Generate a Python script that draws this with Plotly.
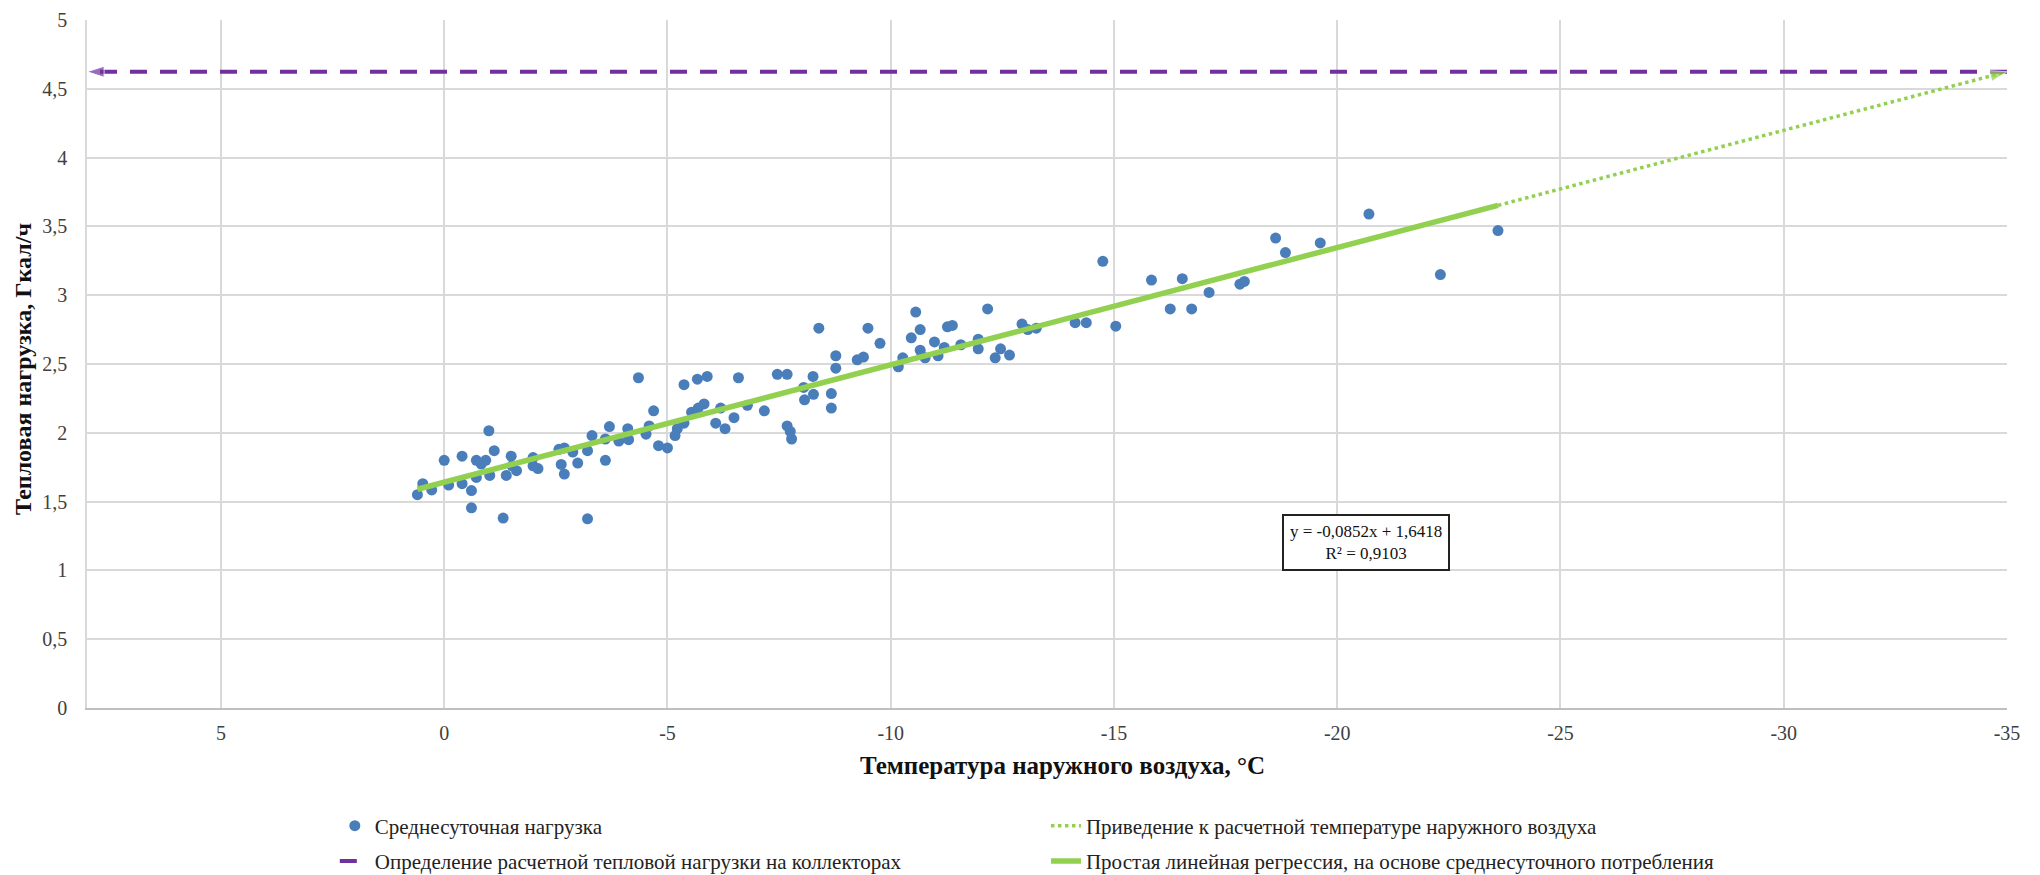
import plotly.graph_objects as go

# ---- data ----
temperature = [0.60, 0.48, 0.28, 0.00, -0.10, -0.40, -0.40, -0.61, -0.61, -0.72,
               -0.72, -0.83, -0.93, -1.00, -1.12, -1.02, -1.32, -1.39, -1.50, -1.62,
               -1.52, -1.99, -2.10, -1.99, -2.57, -2.69, -2.62, -2.69, -2.88, -2.99,
               -3.21, -3.21, -3.31, -3.61, -3.61, -3.70, -3.91, -4.11, -4.13, -4.35,
               -4.52, -4.59, -4.69, -4.80, -5.00, -5.17, -5.22, -5.37, -5.37, -5.54,
               -5.67, -5.69, -5.82, -5.89, -6.08, -6.19, -6.29, -6.49, -6.59, -6.79,
               -7.17, -7.46, -7.68, -7.68, -7.75, -7.78, -8.05, -8.07, -8.26, -8.27,
               -8.39, -8.67, -8.67, -8.77, -8.77, -9.25, -9.39, -9.49, -9.76, -10.17,
               -10.27, -10.46, -10.56, -10.66, -10.66, -10.77, -10.98, -11.06, -11.20, -11.27,
               -11.38, -11.57, -11.96, -11.96, -12.17, -12.34, -12.46, -12.66, -12.94, -13.07,
               -13.26, -14.13, -14.38, -14.75, -15.04, -15.84, -16.26, -16.53, -16.74, -17.13,
               -17.82, -17.92, -18.62, -18.84, -19.62, -20.71, -22.31, -23.60]
daily_load = [1.55, 1.63, 1.585, 1.80, 1.62, 1.83, 1.63, 1.58, 1.455, 1.80,
              1.676, 1.773, 1.80, 2.015, 1.87, 1.69, 1.38, 1.69, 1.83, 1.725,
              1.76, 1.82, 1.74, 1.76, 1.88, 1.89, 1.77, 1.70, 1.86, 1.78,
              1.375, 1.87, 1.98, 1.80, 1.955, 2.045, 1.94, 2.03, 1.95, 2.40,
              1.99, 2.05, 2.16, 1.906, 1.89, 1.98, 2.03, 2.07, 2.35, 2.15,
              2.39, 2.18, 2.21, 2.41, 2.07, 2.18, 2.03, 2.11, 2.40, 2.20,
              2.16, 2.425, 2.425, 2.05, 2.01, 1.955, 2.33, 2.24, 2.41, 2.28,
              2.76, 2.285, 2.18, 2.56, 2.47, 2.53, 2.55, 2.76, 2.65, 2.48,
              2.545, 2.69, 2.877, 2.75, 2.60, 2.545, 2.66, 2.56, 2.62, 2.77,
              2.78, 2.64, 2.68, 2.61, 2.90, 2.545, 2.61, 2.565, 2.79, 2.75,
              2.76, 2.80, 2.80, 3.246, 2.775, 3.11, 2.90, 3.12, 2.90, 3.02,
              3.08, 3.10, 3.415, 3.31, 3.38, 3.59, 3.15, 3.47]

regression_x = [0.6, -23.6]
regression_y = [1.59, 3.653]
extension_x = [-23.6, -35.0]
extension_y = [3.653, 4.624]
design_x = [-35.0, 8.0]
design_y = [4.624, 4.624]

x_tick_vals = [5, 0, -5, -10, -15, -20, -25, -30, -35]
x_tick_text = ["5", "0", "-5", "-10", "-15", "-20", "-25", "-30", "-35"]
y_tick_vals = [0, 0.5, 1, 1.5, 2, 2.5, 3, 3.5, 4, 4.5, 5]
y_tick_text = ["0", "0,5", "1", "1,5", "2", "2,5", "3", "3,5", "4", "4,5", "5"]

equation_text = "y = -0,0852x + 1,6418<br>R² = 0,9103"
x_title = "<b>Температура наружного воздуха, °C</b>"
y_title = "<b>Тепловая нагрузка, Гкал/ч</b>"

name_points = "Среднесуточная нагрузка"
name_extension = "Приведение к расчетной температуре наружного воздуха"
name_design = "Определение расчетной тепловой нагрузки на коллекторах"
name_regression = "Простая линейная регрессия, на основе среднесуточного потребления"

FONT = "Liberation Serif, Times New Roman, serif"
BLUE = "#4A7EBB"
GREEN = "#92D050"
PURPLE = "#7030A0"

fig = go.Figure()

fig.add_trace(go.Scatter(
    x=temperature, y=daily_load, mode="markers", name=name_points,
    marker=dict(color=BLUE, size=11, line=dict(width=0)),
    legend="legend", legendgroup="a", legendrank=1))

fig.add_trace(go.Scatter(
    x=extension_x, y=extension_y, mode="lines", name=name_extension,
    line=dict(color=GREEN, width=3.5, dash="dot"),
    legend="legend2", legendgroup="b", legendrank=1))

fig.add_trace(go.Scatter(
    x=design_x, y=design_y, mode="lines", name=name_design,
    line=dict(color=PURPLE, width=4, dash="17px,13px"),
    legend="legend", legendgroup="c", legendrank=2))

fig.add_trace(go.Scatter(
    x=regression_x, y=regression_y, mode="lines", name=name_regression,
    line=dict(color=GREEN, width=5.5),
    legend="legend2", legendgroup="d", legendrank=2))

# arrow heads
fig.add_trace(go.Scatter(
    x=design_x, y=design_y, mode="markers", showlegend=False, cliponaxis=False,
    marker=dict(symbol="arrow", size=[0, 18], color=PURPLE, angleref="previous"),
    hoverinfo="skip"))
fig.add_trace(go.Scatter(
    x=extension_x, y=extension_y, mode="markers", showlegend=False, cliponaxis=False,
    marker=dict(symbol="arrow", size=[0, 18], color=GREEN, angleref="previous"),
    hoverinfo="skip"))

fig.add_annotation(
    x=-20.64, y=1.20, xref="x", yref="y", text=equation_text, showarrow=False,
    align="center", font=dict(family=FONT, size=17, color="#111111"),
    bordercolor="#222222", borderwidth=2, borderpad=6, bgcolor="white")

fig.add_annotation(
    x=0.5083, y=-0.0830, xref="paper", yref="paper", text=x_title, showarrow=False,
    xanchor="center", yanchor="middle",
    font=dict(family=FONT, size=25, color="#111111"))
fig.add_annotation(
    x=-0.0331, y=0.4935, xref="paper", yref="paper", text=y_title, showarrow=False,
    xanchor="center", yanchor="middle", textangle=-90,
    font=dict(family=FONT, size=24, color="#111111"))

fig.update_xaxes(
    range=[8, -35], tickvals=x_tick_vals, ticktext=x_tick_text, automargin=False,
    showgrid=True, gridcolor="#D9D9D9", gridwidth=1.5,
    showline=True, linecolor="#BFBFBF", linewidth=1.5, mirror=False,
    zeroline=False, ticks="", ticklabelstandoff=6,
    tickfont=dict(family=FONT, size=20, color="#404040"))

fig.update_yaxes(
    range=[0, 5], tickvals=y_tick_vals, ticktext=y_tick_text, automargin=False,
    showgrid=True, gridcolor="#D9D9D9", gridwidth=1.5,
    showline=True, linecolor="#D9D9D9", linewidth=1.5,
    zeroline=False, ticks="", ticklabelstandoff=14,
    tickfont=dict(family=FONT, size=20, color="#404040"))

legend_font = dict(family=FONT, size=21, color="#222222")
fig.update_layout(
    width=2040, height=875,
    margin=dict(l=79, r=41, t=12, b=175, autoexpand=False),
    paper_bgcolor="white", plot_bgcolor="white",
    showlegend=True,
    legend=dict(x=0.1602, y=0.0885, xref="container", yref="container",
                xanchor="left", yanchor="top",
                orientation="v", font=legend_font, tracegroupgap=5,
                bgcolor="rgba(0,0,0,0)", itemwidth=30),
    legend2=dict(x=0.5088, y=0.0885, xref="container", yref="container",
                 xanchor="left", yanchor="top",
                 orientation="v", font=legend_font, tracegroupgap=5,
                 bgcolor="rgba(0,0,0,0)", itemwidth=30),
)

fig.write_html("out.html")
